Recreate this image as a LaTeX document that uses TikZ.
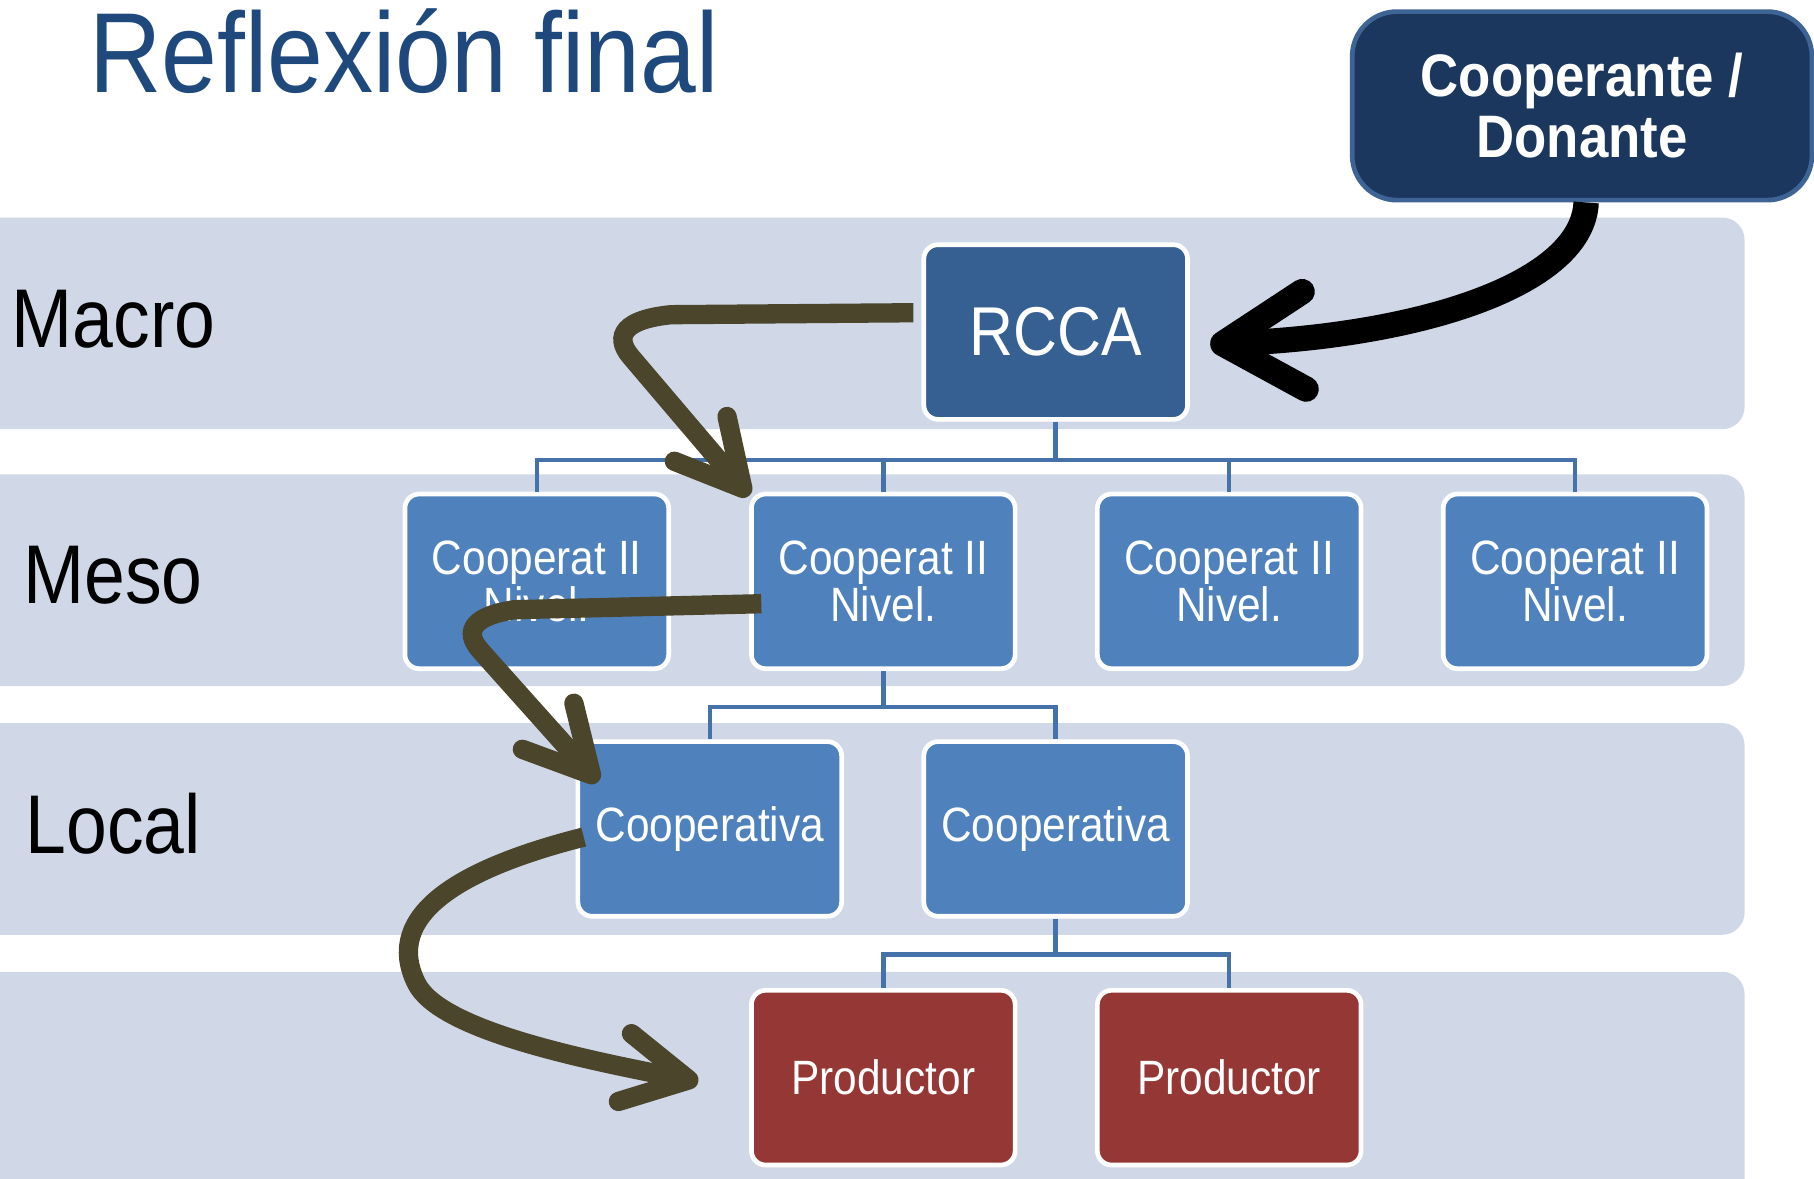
\documentclass[tikz,border=0pt]{standalone}
\usepackage{fontspec}
\setmainfont[FakeStretch=0.88]{Liberation Sans}
\usetikzlibrary{arrows.meta}
\definecolor{bandgray}{HTML}{D0D8E8}
\definecolor{midblue}{HTML}{4F81BD}
\definecolor{topblue}{HTML}{376092}
\definecolor{prodred}{HTML}{953735}
\definecolor{donornavy}{HTML}{1B375E}
\definecolor{donorline}{HTML}{3D6494}
\definecolor{linkblue}{HTML}{4672AA}
\definecolor{flowolive}{HTML}{4B452C}
\definecolor{titleblue}{HTML}{1F497D}

\begin{document}
\begin{tikzpicture}[x=0.02cm, y=-0.02cm,
  band/.style={fill=bandgray, rounded corners=11pt},
  box/.style={draw=white, line width=2.3pt, rounded corners=7pt, minimum width=4.56cm,
    minimum height=3.02cm, inner sep=0pt, text=white, align=center,
    font=\fontsize{23.7}{19.5}\selectfont},
  level/.style={anchor=base west, font=\fontsize{41}{41}\selectfont},
  link/.style={draw=linkblue, line width=2.2pt},
  flow/.style={draw=flowolive, line width=9.5pt,
    -{Straight Barb[length=32pt, width=34pt, round]}}]
\useasboundingbox (0,0) rectangle (1568,1019);
\clip (0,0) rectangle (1568,1019);

\fill[band] (-30,188) rectangle (1508,371);
\fill[band] (-30,410) rectangle (1508,593);
\fill[band] (-30,625) rectangle (1508,808);
\fill[band] (-30,840) rectangle (1508,1060);

\node[anchor=base west, text=titleblue, font=\fontsize{56}{56}\selectfont] (title) at (71,80) {Reflexión final};
\node[level] (macro) at (4,300) {Macro};
\node[level] (meso) at (14,522) {Meso};
\node[level] (local) at (16,738) {Local};

\node[box, fill=topblue, font=\fontsize{34}{34}\selectfont] (rcca) at (912.5,287) {RCCA};
\node[box, fill=midblue] (meso1) at (464,502.5) {Cooperat II\\Nivel.};
\node[box, fill=midblue] (meso2) at (763.5,502.5) {Cooperat II\\Nivel.};
\node[box, fill=midblue] (meso3) at (1062.5,502.5) {Cooperat II\\Nivel.};
\node[box, fill=midblue] (meso4) at (1361.5,502.5) {Cooperat II\\Nivel.};
\node[box, fill=midblue] (local1) at (613.5,716.5) {Cooperativa};
\node[box, fill=midblue] (local2) at (912.5,716.5) {Cooperativa};
\node[box, fill=prodred] (prod1) at (763.5,931.5) {Productor};
\node[box, fill=prodred] (prod2) at (1062.5,931.5) {Productor};

\node[draw=donorline, fill=donornavy, line width=2.3pt, rounded corners=22pt,
  minimum width=7.95cm, minimum height=3.26cm, text=white, align=center,
  font=\bfseries\fontsize{29.5}{30}\selectfont] (donor) at (1367.5,91.5) {Cooperante /\\Donante};

\foreach \n in {meso1,meso2,meso3,meso4}
  \draw[link] (rcca.south) -- ++(0,33) -| (\n.north);
\foreach \n in {local1,local2}
  \draw[link] (meso2.south) -- ++(0,31) -| (\n.north);
\foreach \n in {prod1,prod2}
  \draw[link] (local2.south) -- ++(0,31) -| (\n.north);

\draw[line width=12.5pt, -{Straight Barb[length=40pt, width=48pt, round]}]
  ([xshift=2pt]donor.south) .. controls (1368,245) and (1230,290) .. ([xshift=10pt,yshift=-6pt]rcca.east);
\draw[flow] ([xshift=-4pt,yshift=9.5pt]rcca.west) -- (580,272)
  .. controls (540,276) and (530,290) .. (545,308) -- ([yshift=-2pt]meso2.north west);
\draw[flow] ([xshift=6pt,yshift=-11pt]meso2.west) -- (445,527)
  .. controls (410,532) and (400,545) .. (415,562) -- ([xshift=11pt,yshift=-21pt]local1.north west);
\draw[flow] ([xshift=4pt,yshift=-4pt]local1.west) .. controls (400,750) and (330,790) .. (360,850)
  .. controls (380,890) and (500,915) .. ([xshift=-25pt,yshift=-2pt]prod1.west);
\end{tikzpicture}
\end{document}
